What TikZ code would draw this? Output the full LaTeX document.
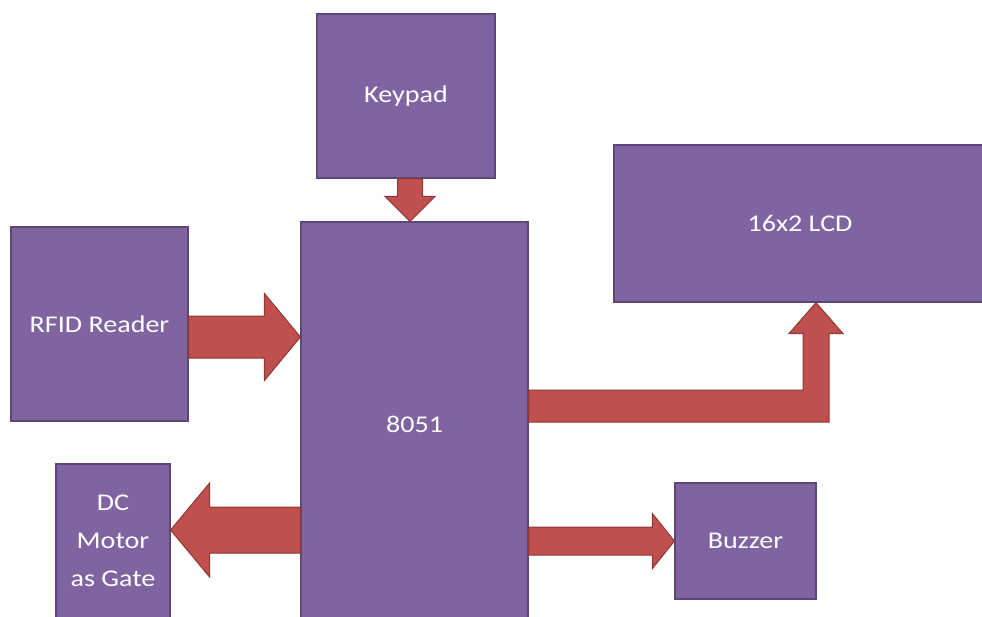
\documentclass[tikz,border=0pt]{standalone}
\usepackage{fontspec}
\setmainfont{Carlito}[FakeStretch=1.17]
\usepackage{tikz}
\usetikzlibrary{calc}
\definecolor{boxfill}{HTML}{8064A2}
\definecolor{boxline}{HTML}{5C4776}
\definecolor{arrfill}{HTML}{C0504D}
\definecolor{arrline}{HTML}{8C3836}
\tikzstyle{blk}=[draw=boxline, line width=1.2pt, fill=boxfill, text=white, font=\fontsize{24}{38}\selectfont, align=center, inner sep=0pt]
\tikzstyle{fatarrow}=[draw=arrline, line width=1pt, fill=arrfill, line join=miter]
\newcommand{\harrow}[6]{%
\filldraw[fatarrow] let \p1=(#1 |- 0,#3), \p2=(#2 |- 0,#3) in
	(\x1,{\y1+#4}) -- ({\x2-(#6)},{\y1+#4}) -- ({\x2-(#6)},{\y1+#5}) -- (\p2)
	-- ({\x2-(#6)},{\y1-#5}) -- ({\x2-(#6)},{\y1-#4}) -- (\x1,{\y1-#4}) -- cycle;
}
\begin{document}
\begin{tikzpicture}[x=1pt,y=-1pt]
\useasboundingbox (0,0) rectangle (982,616);
\node[blk, minimum width=178pt, minimum height=164pt] (keypad) at (406,96) {Keypad};
\node[blk, minimum width=372pt, minimum height=157pt] (lcd) at (800,223.5) {16x2 LCD};
\node[blk, minimum width=177pt, minimum height=194pt] (rfid) at (99.5,324) {RFID Reader};
\node[blk, minimum width=227pt, minimum height=404pt] (mcu) at (414.5,424) {8051};
\node[blk, minimum width=114pt, minimum height=154pt] (motor) at (113,541) {DC\\Motor\\as Gate};
\node[blk, minimum width=141pt, minimum height=116pt] (buzzer) at (745.5,541) {Buzzer};
\filldraw[fatarrow] let \p1=(keypad.south -| 410,0), \p2=(mcu.north -| 410,0) in
	({\x1-12.5pt},\y1) -- ({\x1-12.5pt},{\y2+25pt}) -- ({\x1-25pt},{\y2+25pt}) -- (\p2)
	-- ({\x1+25pt},{\y2+25pt}) -- ({\x1+12.5pt},{\y2+25pt}) -- ({\x1+12.5pt},\y1) -- cycle;
\harrow{rfid.east}{mcu.west}{337}{21pt}{43.5pt}{36pt}
\harrow{mcu.west}{motor.east}{530}{23pt}{47pt}{-39pt}
\harrow{mcu.east}{buzzer.west}{541}{14pt}{27.5pt}{22pt}
\filldraw[fatarrow] let \p1=(mcu.east |- 0,406), \p2=(lcd.south -| 816,0) in
	(\x1,{\y1+16pt}) -- ({\x2-13pt},{\y1+16pt}) -- ({\x2-13pt},{\y2-31pt}) -- ({\x2-27pt},{\y2-31pt}) -- (\p2)
	-- ({\x2+27pt},{\y2-31pt}) -- ({\x2+13pt},{\y2-31pt}) -- ({\x2+13pt},{\y1-16pt}) -- (\x1,{\y1-16pt}) -- cycle;
\end{tikzpicture}
\end{document}
